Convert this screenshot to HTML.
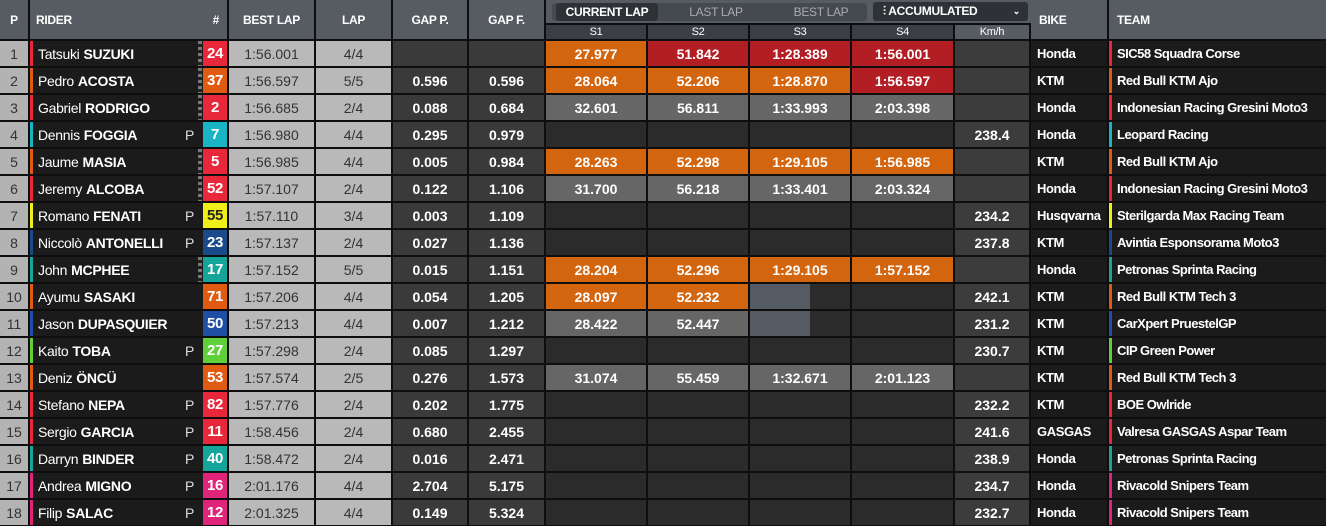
<!DOCTYPE html>
<html><head><meta charset="utf-8"><style>
*{box-sizing:border-box;margin:0;padding:0}
body{width:1326px;height:526px;background:#0e0e0e;font-family:"Liberation Sans Narrow","Liberation Sans",sans-serif;font-size:13px;overflow:hidden;white-space:nowrap}
.g{display:grid;grid-template-columns:28px 197px 85px 75px 74px 75px 100px 100px 100px 101px 74px 76px 217px;column-gap:2px}
.h{height:39px;margin-bottom:2px}
.h>div{background:#575c63;color:#fff;display:flex;align-items:center;justify-content:center;font-weight:bold;font-size:12px;letter-spacing:-0.3px}
.r{height:25px;margin-bottom:2px}
.r>div{display:flex;align-items:center;justify-content:center;color:#fff;height:25px;overflow:hidden}
.p{background:#b3b3b3;color:#333!important;font-size:14px}
.rd{background:#1b1b1b;justify-content:flex-start!important;position:relative;border-left:3px solid;padding-left:5px;font-size:14px;letter-spacing:-0.3px}
.rd b{margin-left:4px}
.rd .n{position:absolute;right:0;top:0;width:24px;height:25px;display:flex;align-items:center;justify-content:center;font-weight:bold;font-size:15px;color:#fff}
.rd .pp{position:absolute;right:33px;color:#ddd;font-size:14px}
.rd .ck{position:absolute;right:25px;top:0;width:4px;height:25px;background:repeating-linear-gradient(#777 0 3px,#222 3px 6px)}
.l{background:#b9b9b9;color:#333!important;font-size:14px}
.gp{background:#3a3a3a;font-weight:bold;font-size:14px}
.e{background:#2b2b2b}
.o{background:#d4650f;font-size:14px;font-weight:bold}
.rr{background:#b31d24;font-size:14px;font-weight:bold}
.gr{background:#666;font-size:14px;font-weight:bold}
.pt{background:linear-gradient(90deg,#555b63 0 60px,#2b2b2b 60px)}
.k{background:#3c3c3c;font-weight:bold;font-size:14px}
.b{background:#1b1b1b;justify-content:flex-start!important;padding-left:6px;font-weight:bold;font-size:13px;letter-spacing:-0.4px}
.t{background:#1b1b1b;justify-content:flex-start!important;padding-left:5px;border-left:3px solid;font-weight:bold;font-size:13px;letter-spacing:-0.5px}
.sec{grid-column:7 / span 5;background:#0e0e0e!important;display:block!important;position:relative}
</style></head><body>
<div class="g h">
<div>P</div><div style="justify-content:space-between;padding:0 8px 0 6px"><span>RIDER</span><span>#</span></div><div>BEST LAP</div><div>LAP</div><div>GAP P.</div><div>GAP F.</div>
<div class="sec">
<div style="position:absolute;left:0;top:0;width:486px;height:23px;background:#575c63"></div>
<div style="position:absolute;left:6px;top:3px;width:315px;height:18px;background:#454a51;border-radius:3px"></div>
<div style="position:absolute;left:10px;top:3px;width:102px;height:18px;background:#2e3237;border-radius:3px;color:#fff;font-size:12px;text-align:center;line-height:18px">CURRENT LAP</div>
<div style="position:absolute;left:120px;top:3px;width:100px;color:#aaa;font-size:12px;text-align:center;line-height:18px;font-weight:normal">LAST LAP</div>
<div style="position:absolute;left:225px;top:3px;width:100px;color:#aaa;font-size:12px;text-align:center;line-height:18px;font-weight:normal">BEST LAP</div>
<div style="position:absolute;left:327px;top:2px;width:155px;height:19px;background:#2e3237;border-radius:3px;color:#fff;font-size:12px;line-height:19px;padding-left:10px">⫶ ACCUMULATED<span style="position:absolute;right:8px;font-size:9px">⌄</span></div>
<div style="position:absolute;left:0;top:25px;width:100px;height:14px;background:#3b3f45;color:#fff;font-size:11px;text-align:center;line-height:14px;font-weight:normal">S1</div>
<div style="position:absolute;left:102px;top:25px;width:100px;height:14px;background:#3b3f45;color:#fff;font-size:11px;text-align:center;line-height:14px;font-weight:normal">S2</div>
<div style="position:absolute;left:204px;top:25px;width:100px;height:14px;background:#3b3f45;color:#fff;font-size:11px;text-align:center;line-height:14px;font-weight:normal">S3</div>
<div style="position:absolute;left:306px;top:25px;width:101px;height:14px;background:#3b3f45;color:#fff;font-size:11px;text-align:center;line-height:14px;font-weight:normal">S4</div>
<div style="position:absolute;left:409px;top:25px;width:74px;height:14px;background:#575c63;color:#fff;font-size:11px;text-align:center;line-height:14px;font-weight:normal">Km/h</div>
</div>
<div style="justify-content:flex-start;padding-left:8px">BIKE</div><div style="justify-content:flex-start;padding-left:8px">TEAM</div>
</div>

<div class="g r"><div class="p">1</div><div class="rd" style="border-color:#e8273a">Tatsuki<b>SUZUKI</b><span class="ck"></span><span class="n" style="background:#e8273a">24</span></div><div class="l">1:56.001</div><div class="l">4/4</div><div class="gp"></div><div class="gp"></div><div class="o">27.977</div><div class="rr">51.842</div><div class="rr">1:28.389</div><div class="rr">1:56.001</div><div class="k"></div><div class="b">Honda</div><div class="t" style="border-color:#e8273a">SIC58 Squadra Corse</div></div>
<div class="g r"><div class="p">2</div><div class="rd" style="border-color:#e05a12">Pedro<b>ACOSTA</b><span class="ck"></span><span class="n" style="background:#e05a12">37</span></div><div class="l">1:56.597</div><div class="l">5/5</div><div class="gp">0.596</div><div class="gp">0.596</div><div class="o">28.064</div><div class="o">52.206</div><div class="o">1:28.870</div><div class="rr">1:56.597</div><div class="k"></div><div class="b">KTM</div><div class="t" style="border-color:#e05a12">Red Bull KTM Ajo</div></div>
<div class="g r"><div class="p">3</div><div class="rd" style="border-color:#e8273a">Gabriel<b>RODRIGO</b><span class="ck"></span><span class="n" style="background:#e8273a">2</span></div><div class="l">1:56.685</div><div class="l">2/4</div><div class="gp">0.088</div><div class="gp">0.684</div><div class="gr">32.601</div><div class="gr">56.811</div><div class="gr">1:33.993</div><div class="gr">2:03.398</div><div class="k"></div><div class="b">Honda</div><div class="t" style="border-color:#e8273a">Indonesian Racing Gresini Moto3</div></div>
<div class="g r"><div class="p">4</div><div class="rd" style="border-color:#1ab5c4">Dennis<b>FOGGIA</b><span class="pp">P</span><span class="n" style="background:#1ab5c4">7</span></div><div class="l">1:56.980</div><div class="l">4/4</div><div class="gp">0.295</div><div class="gp">0.979</div><div class="e"></div><div class="e"></div><div class="e"></div><div class="e"></div><div class="k">238.4</div><div class="b">Honda</div><div class="t" style="border-color:#1ab5c4">Leopard Racing</div></div>
<div class="g r"><div class="p">5</div><div class="rd" style="border-color:#e05a12">Jaume<b>MASIA</b><span class="ck"></span><span class="n" style="background:#e8273a">5</span></div><div class="l">1:56.985</div><div class="l">4/4</div><div class="gp">0.005</div><div class="gp">0.984</div><div class="o">28.263</div><div class="o">52.298</div><div class="o">1:29.105</div><div class="o">1:56.985</div><div class="k"></div><div class="b">KTM</div><div class="t" style="border-color:#e05a12">Red Bull KTM Ajo</div></div>
<div class="g r"><div class="p">6</div><div class="rd" style="border-color:#e8273a">Jeremy<b>ALCOBA</b><span class="ck"></span><span class="n" style="background:#e8273a">52</span></div><div class="l">1:57.107</div><div class="l">2/4</div><div class="gp">0.122</div><div class="gp">1.106</div><div class="gr">31.700</div><div class="gr">56.218</div><div class="gr">1:33.401</div><div class="gr">2:03.324</div><div class="k"></div><div class="b">Honda</div><div class="t" style="border-color:#e8273a">Indonesian Racing Gresini Moto3</div></div>
<div class="g r"><div class="p">7</div><div class="rd" style="border-color:#f0ef1a">Romano<b>FENATI</b><span class="pp">P</span><span class="n" style="background:#f0ef1a;color:#222">55</span></div><div class="l">1:57.110</div><div class="l">3/4</div><div class="gp">0.003</div><div class="gp">1.109</div><div class="e"></div><div class="e"></div><div class="e"></div><div class="e"></div><div class="k">234.2</div><div class="b">Husqvarna</div><div class="t" style="border-color:#f0ef1a">Sterilgarda Max Racing Team</div></div>
<div class="g r"><div class="p">8</div><div class="rd" style="border-color:#1b4a8a">Niccolò<b>ANTONELLI</b><span class="pp">P</span><span class="n" style="background:#1b4a8a">23</span></div><div class="l">1:57.137</div><div class="l">2/4</div><div class="gp">0.027</div><div class="gp">1.136</div><div class="e"></div><div class="e"></div><div class="e"></div><div class="e"></div><div class="k">237.8</div><div class="b">KTM</div><div class="t" style="border-color:#1b4a8a">Avintia Esponsorama Moto3</div></div>
<div class="g r"><div class="p">9</div><div class="rd" style="border-color:#16a59a">John<b>MCPHEE</b><span class="ck"></span><span class="n" style="background:#16a59a">17</span></div><div class="l">1:57.152</div><div class="l">5/5</div><div class="gp">0.015</div><div class="gp">1.151</div><div class="o">28.204</div><div class="o">52.296</div><div class="o">1:29.105</div><div class="o">1:57.152</div><div class="k"></div><div class="b">Honda</div><div class="t" style="border-color:#16a59a">Petronas Sprinta Racing</div></div>
<div class="g r"><div class="p">10</div><div class="rd" style="border-color:#e05a12">Ayumu<b>SASAKI</b><span class="n" style="background:#e05a12">71</span></div><div class="l">1:57.206</div><div class="l">4/4</div><div class="gp">0.054</div><div class="gp">1.205</div><div class="o">28.097</div><div class="o">52.232</div><div class="pt"></div><div class="e"></div><div class="k">242.1</div><div class="b">KTM</div><div class="t" style="border-color:#e05a12">Red Bull KTM Tech 3</div></div>
<div class="g r"><div class="p">11</div><div class="rd" style="border-color:#1f4ea5">Jason<b>DUPASQUIER</b><span class="n" style="background:#1f4ea5">50</span></div><div class="l">1:57.213</div><div class="l">4/4</div><div class="gp">0.007</div><div class="gp">1.212</div><div class="gr">28.422</div><div class="gr">52.447</div><div class="pt"></div><div class="e"></div><div class="k">231.2</div><div class="b">KTM</div><div class="t" style="border-color:#1f4ea5">CarXpert PruestelGP</div></div>
<div class="g r"><div class="p">12</div><div class="rd" style="border-color:#5fd03a">Kaito<b>TOBA</b><span class="pp">P</span><span class="n" style="background:#5fd03a">27</span></div><div class="l">1:57.298</div><div class="l">2/4</div><div class="gp">0.085</div><div class="gp">1.297</div><div class="e"></div><div class="e"></div><div class="e"></div><div class="e"></div><div class="k">230.7</div><div class="b">KTM</div><div class="t" style="border-color:#5fd03a">CIP Green Power</div></div>
<div class="g r"><div class="p">13</div><div class="rd" style="border-color:#e05a12">Deniz<b>ÖNCÜ</b><span class="n" style="background:#e05a12">53</span></div><div class="l">1:57.574</div><div class="l">2/5</div><div class="gp">0.276</div><div class="gp">1.573</div><div class="gr">31.074</div><div class="gr">55.459</div><div class="gr">1:32.671</div><div class="gr">2:01.123</div><div class="k"></div><div class="b">KTM</div><div class="t" style="border-color:#e05a12">Red Bull KTM Tech 3</div></div>
<div class="g r"><div class="p">14</div><div class="rd" style="border-color:#e8273a">Stefano<b>NEPA</b><span class="pp">P</span><span class="n" style="background:#e8273a">82</span></div><div class="l">1:57.776</div><div class="l">2/4</div><div class="gp">0.202</div><div class="gp">1.775</div><div class="e"></div><div class="e"></div><div class="e"></div><div class="e"></div><div class="k">232.2</div><div class="b">KTM</div><div class="t" style="border-color:#e8273a">BOE Owlride</div></div>
<div class="g r"><div class="p">15</div><div class="rd" style="border-color:#e8273a">Sergio<b>GARCIA</b><span class="pp">P</span><span class="n" style="background:#e8273a">11</span></div><div class="l">1:58.456</div><div class="l">2/4</div><div class="gp">0.680</div><div class="gp">2.455</div><div class="e"></div><div class="e"></div><div class="e"></div><div class="e"></div><div class="k">241.6</div><div class="b">GASGAS</div><div class="t" style="border-color:#e8273a">Valresa GASGAS Aspar Team</div></div>
<div class="g r"><div class="p">16</div><div class="rd" style="border-color:#16a59a">Darryn<b>BINDER</b><span class="pp">P</span><span class="n" style="background:#16a59a">40</span></div><div class="l">1:58.472</div><div class="l">2/4</div><div class="gp">0.016</div><div class="gp">2.471</div><div class="e"></div><div class="e"></div><div class="e"></div><div class="e"></div><div class="k">238.9</div><div class="b">Honda</div><div class="t" style="border-color:#16a59a">Petronas Sprinta Racing</div></div>
<div class="g r"><div class="p">17</div><div class="rd" style="border-color:#e0247a">Andrea<b>MIGNO</b><span class="pp">P</span><span class="n" style="background:#e0247a">16</span></div><div class="l">2:01.176</div><div class="l">4/4</div><div class="gp">2.704</div><div class="gp">5.175</div><div class="e"></div><div class="e"></div><div class="e"></div><div class="e"></div><div class="k">234.7</div><div class="b">Honda</div><div class="t" style="border-color:#e0247a">Rivacold Snipers Team</div></div>
<div class="g r"><div class="p">18</div><div class="rd" style="border-color:#e0247a">Filip<b>SALAC</b><span class="pp">P</span><span class="n" style="background:#e0247a">12</span></div><div class="l">2:01.325</div><div class="l">4/4</div><div class="gp">0.149</div><div class="gp">5.324</div><div class="e"></div><div class="e"></div><div class="e"></div><div class="e"></div><div class="k">232.7</div><div class="b">Honda</div><div class="t" style="border-color:#e0247a">Rivacold Snipers Team</div></div>
</body></html>
